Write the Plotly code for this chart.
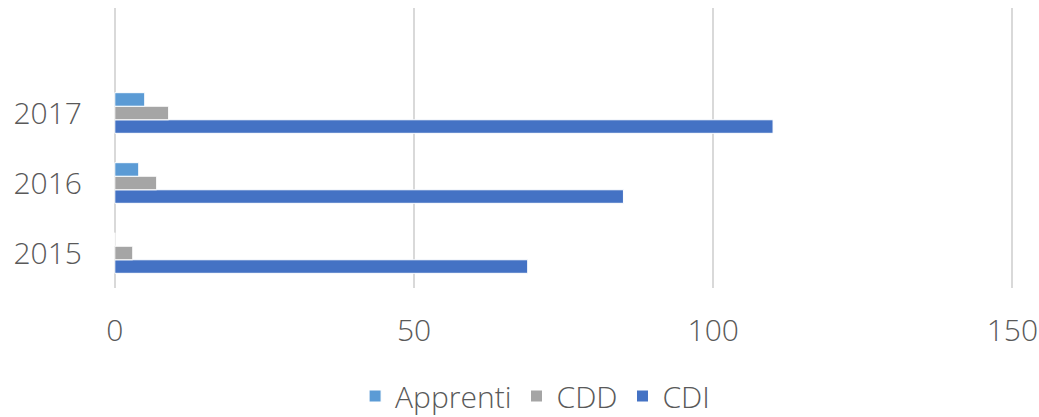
import plotly.graph_objects as go

years = ["2015", "2016", "2017"]
year_pos = [0, 1, 2]
apprenti = [0, 4, 5]
cdd = [3, 7, 9]
cdi = [69, 85, 110]
x_ticks = [0, 50, 100, 150]

font_family = "Open Sans"
text_color = "#595959"

fig = go.Figure()
for name, vals, color in [("CDI", cdi, "#4472C4"), ("CDD", cdd, "#A5A5A5"), ("Apprenti", apprenti, "#5B9BD5")]:
    fig.add_trace(go.Bar(
        y=year_pos, x=vals, name=name, orientation="h",
        marker=dict(color=color, line=dict(color="white", width=1)),
    ))

fig.update_layout(
    width=1039, height=417,
    margin=dict(l=112.7, r=23.4, t=8, b=129, autoexpand=False),
    paper_bgcolor="white", plot_bgcolor="white",
    barmode="group", bargap=0.42, bargroupgap=0,
    font=dict(family=font_family, color=text_color, size=30, weight=300),
    showlegend=True,
    legend=dict(orientation="h", x=0.515, xanchor="center", xref="container",
                y=(417 - 396) / 417, yref="container", yanchor="middle",
                traceorder="reversed", font=dict(size=30, color=text_color, weight=300)),
    xaxis=dict(range=[-0.3, 150.6], tickvals=x_ticks, showgrid=True, gridcolor="#D9D9D9", gridwidth=2,
               zeroline=True, zerolinecolor="#D9D9D9", zerolinewidth=2,
               showline=False, ticks="", ticklabelstandoff=22, automargin=False,
               tickfont=dict(size=30, color=text_color, weight=300)),
    yaxis=dict(range=[-0.5, 3.5], tickvals=year_pos, ticktext=years, showgrid=False, zeroline=False,
               showline=False, ticks="", ticklabelstandoff=30, automargin=False,
               tickfont=dict(size=30, color=text_color, weight=300)),
)

fig.write_html("out.html", config={"displayModeBar": False},
               post_script="document.body.style.margin='0';document.body.style.overflow='hidden';")
